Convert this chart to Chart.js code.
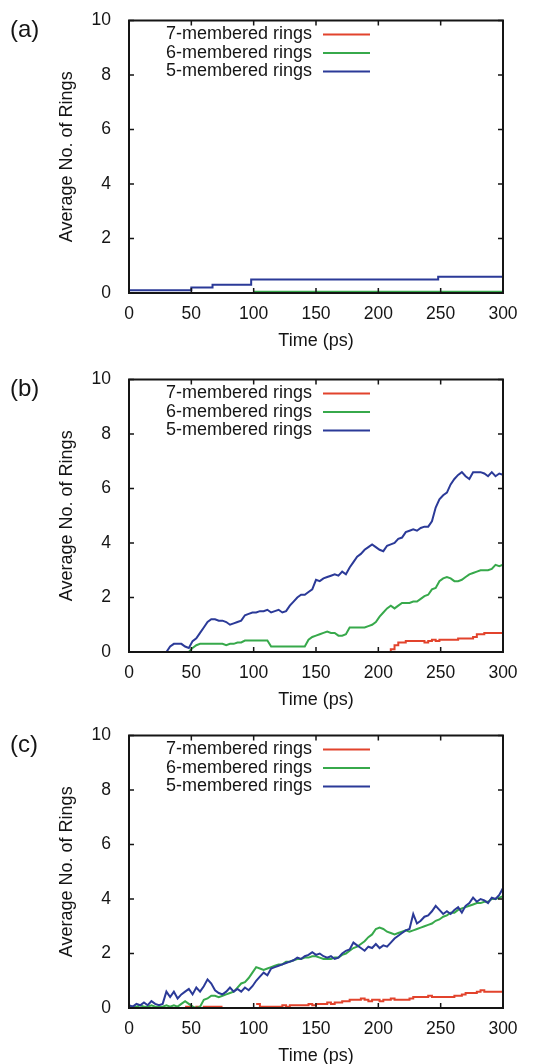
<!DOCTYPE html>
<html>
<head>
<meta charset="utf-8">
<script src="https://cdn.jsdelivr.net/npm/chart.js@4.4.1/dist/chart.umd.min.js"></script>
<style>
  html, body { margin: 0; padding: 0; background: #ffffff; }
  body { width: 535px; height: 1064px; position: relative; overflow: hidden; }
  canvas { position: absolute; left: 0; }
</style>
</head>
<body>
<canvas id="panelA" width="535" height="352" style="top:0px"></canvas>
<canvas id="panelB" width="535" height="352" style="top:359px"></canvas>
<canvas id="panelC" width="535" height="352" style="top:715px"></canvas>
<script>
// ---- data -------------------------------------------------------------
const seriesNames = ['7-membered rings', '6-membered rings', '5-membered rings'];
const xTicks = [0, 50, 100, 150, 200, 250, 300];
const yTicks = [0, 2, 4, 6, 8, 10];

// panel (a): piecewise-constant counts (time in ps, value)
const aTime7 = [0, 300];
const aRing7 = [0, 0];
const aTime6 = [100, 300];
const aRing6 = [0.05, 0.05];
const aTime5 = [0, 50, 67, 98, 248, 300];
const aRing5 = [0.1, 0.2, 0.3, 0.5, 0.6, 0.6];

// panels (b) and (c): sampled every 3 ps
const sampleTimes = [
  0, 3, 6, 9, 12, 15, 18, 21, 24, 27,
  30, 33, 36, 39, 42, 45, 48, 51, 54, 57,
  60, 63, 66, 69, 72, 75, 78, 81, 84, 87,
  90, 93, 96, 99, 102, 105, 108, 111, 114, 117,
  120, 123, 126, 129, 132, 135, 138, 141, 144, 147,
  150, 153, 156, 159, 162, 165, 168, 171, 174, 177,
  180, 183, 186, 189, 192, 195, 198, 201, 204, 207,
  210, 213, 216, 219, 222, 225, 228, 231, 234, 237,
  240, 243, 246, 249, 252, 255, 258, 261, 264, 267,
  270, 273, 276, 279, 282, 285, 288, 291, 294, 297,
  300
];

const bRing7 = [
  null, null, null, null, null, null, null, null, null, null,
  null, null, null, null, null, null, null, null, null, null,
  null, null, null, null, null, null, null, null, null, null,
  null, null, null, null, null, null, null, null, null, null,
  null, null, null, null, null, null, null, null, null, null,
  null, null, null, null, null, null, null, null, null, null,
  null, null, null, null, null, null, null, null, null, 0,
  0.1, 0.25, 0.35, 0.35, 0.4, 0.4, 0.4, 0.4, 0.4, 0.35,
  0.4, 0.45, 0.4, 0.45, 0.45, 0.45, 0.45, 0.45, 0.5, 0.5,
  0.5, 0.5, 0.55, 0.65, 0.65, 0.7, 0.7, 0.7, 0.7, 0.7,
  0.7
];
const bRing6 = [
  null, null, null, null, null, null, null, null, null, null,
  null, null, null, null, null, null, 0, 0.15, 0.25, 0.3,
  0.3, 0.3, 0.3, 0.3, 0.3, 0.3, 0.25, 0.3, 0.3, 0.35,
  0.35, 0.42, 0.42, 0.42, 0.42, 0.42, 0.42, 0.42, 0.2, 0.2,
  0.2, 0.2, 0.2, 0.2, 0.2, 0.2, 0.2, 0.2, 0.45, 0.55,
  0.6, 0.65, 0.7, 0.75, 0.7, 0.7, 0.6, 0.6, 0.65, 0.9,
  0.9, 0.9, 0.9, 0.9, 0.95, 1.0, 1.1, 1.3, 1.45, 1.6,
  1.7, 1.6, 1.7, 1.8, 1.8, 1.8, 1.85, 1.85, 1.95, 2.05,
  2.1, 2.3, 2.35, 2.6, 2.7, 2.75, 2.7, 2.6, 2.6, 2.65,
  2.75, 2.85, 2.9, 2.95, 3.0, 3.0, 3.0, 3.05, 3.2, 3.15,
  3.2
];
const bRing5 = [
  null, null, null, null, null, null, null, null, null, null,
  0, 0.2, 0.3, 0.3, 0.3, 0.2, 0.15, 0.4, 0.5, 0.7,
  0.9, 1.1, 1.2, 1.2, 1.15, 1.15, 1.1, 1.0, 1.05, 1.1,
  1.15, 1.35, 1.4, 1.45, 1.45, 1.5, 1.5, 1.55, 1.45, 1.5,
  1.55, 1.45, 1.5, 1.7, 1.85, 2.0, 2.1, 2.1, 2.2, 2.3,
  2.65, 2.6, 2.7, 2.75, 2.8, 2.85, 2.8, 2.95, 2.85, 3.1,
  3.3, 3.5, 3.6, 3.75, 3.85, 3.95, 3.85, 3.75, 3.7, 3.9,
  3.95, 4.0, 4.15, 4.2, 4.4, 4.45, 4.5, 4.45, 4.55, 4.6,
  4.6, 4.8, 5.3, 5.6, 5.75, 5.85, 6.15, 6.35, 6.5, 6.6,
  6.45, 6.35, 6.6, 6.6, 6.6, 6.55, 6.45, 6.6, 6.45, 6.55,
  6.5
];

const cRing7 = [
  null, null, null, null, null, null, null, null, null, null,
  null, null, null, null, null, 0.05, 0.05, 0, 0.05, 0,
  0.05, 0.05, 0.05, 0.05, 0.05, 0.05, null, null, null, null,
  null, null, null, null, 0.15, 0.05, 0.05, 0.05, 0.05, 0.05,
  0.05, 0.1, 0.05, 0.1, 0.1, 0.1, 0.1, 0.1, 0.15, 0.1,
  0.15, 0.15, 0.15, 0.2, 0.15, 0.2, 0.2, 0.25, 0.25, 0.3,
  0.3, 0.3, 0.35, 0.3, 0.25, 0.3, 0.3, 0.25, 0.3, 0.3,
  0.35, 0.3, 0.3, 0.3, 0.3, 0.35, 0.4, 0.4, 0.4, 0.4,
  0.45, 0.4, 0.4, 0.4, 0.4, 0.4, 0.4, 0.45, 0.45, 0.5,
  0.55, 0.55, 0.55, 0.6, 0.65, 0.6, 0.6, 0.6, 0.6, 0.6,
  0.6
];
const cRing6 = [
  0.05, 0.05, 0.05, 0.1, 0.05, 0.05, 0.1, 0.05, 0.05, 0.05,
  0.1, 0.05, 0.1, 0.05, 0.15, 0.25, 0.15, 0.05, 0.0, 0.05,
  0.3, 0.35, 0.45, 0.45, 0.4, 0.45, 0.5, 0.55, 0.6, 0.75,
  0.9, 0.95, 1.1, 1.3, 1.5, 1.45, 1.4, 1.45, 1.5, 1.55,
  1.6, 1.6, 1.7, 1.7, 1.75, 1.8, 1.8, 1.85, 1.85, 1.9,
  1.9, 1.85, 1.8, 1.8, 1.8, 1.85, 1.85, 1.95, 2.0, 2.1,
  2.2, 2.25, 2.35, 2.45, 2.6, 2.7, 2.9, 2.95, 2.9, 2.8,
  2.75, 2.7, 2.75, 2.8, 2.85, 2.8, 2.85, 2.9, 2.95, 3.0,
  3.05, 3.1, 3.2, 3.25, 3.35, 3.4, 3.5, 3.5, 3.6, 3.65,
  3.7, 3.75, 3.8, 3.85, 3.85, 3.9, 3.9, 4.0, 4.0, 4.05,
  4.1
];
const cRing5 = [
  0.1, 0.05, 0.15, 0.1, 0.2, 0.1, 0.25, 0.15, 0.1, 0.15,
  0.6, 0.4, 0.6, 0.35, 0.5, 0.6, 0.7, 0.5, 0.75, 0.6,
  0.8, 1.05, 0.9, 0.65, 0.55, 0.5, 0.6, 0.75, 0.6, 0.7,
  0.6, 0.75, 0.65, 0.8, 1.0, 1.15, 1.3, 1.2, 1.45, 1.5,
  1.55, 1.6, 1.65, 1.7, 1.75, 1.85, 1.8, 1.9, 1.95, 2.05,
  1.95, 2.0, 1.9, 1.85, 1.9, 1.8, 1.85, 2.0, 2.1, 2.15,
  2.4, 2.3, 2.2, 2.1, 2.25, 2.2, 2.35, 2.2, 2.3, 2.25,
  2.4, 2.55, 2.65, 2.75, 2.85, 2.9, 3.45, 3.1, 3.2, 3.35,
  3.4, 3.55, 3.75, 3.6, 3.45, 3.55, 3.45, 3.6, 3.7, 3.5,
  3.75, 3.85, 4.05, 3.9, 4.0, 3.95, 3.85, 4.05, 4.0, 4.15,
  4.4
];

// ---- styling ----------------------------------------------------------
const FONT = "'Liberation Sans', Arial, Helvetica, sans-serif";
const INK = '#151515';
const RED = '#e2432c';
const GREEN = '#37a94b';
const BLUE = '#2b3a98';

function points(times, values) {
  return times.map((t, i) => ({ x: t, y: values[i] }));
}

// frame, inward tick marks, key and panel letter
const panelDecor = {
  id: 'panelDecor',
  afterDatasetsDraw(chart, args, opts) {
    const { ctx, chartArea: a, scales } = chart;
    ctx.save();
    ctx.strokeStyle = INK;
    ctx.lineWidth = 2;
    ctx.strokeRect(a.left, a.top, a.right - a.left, a.bottom - a.top);
    ctx.lineWidth = 1.5;
    ctx.beginPath();
    xTicks.forEach(v => {
      const px = scales.x.getPixelForValue(v);
      ctx.moveTo(px, a.bottom); ctx.lineTo(px, a.bottom - 5);
      ctx.moveTo(px, a.top); ctx.lineTo(px, a.top + 5);
    });
    yTicks.forEach(v => {
      const py = scales.y.getPixelForValue(v);
      ctx.moveTo(a.left, py); ctx.lineTo(a.left + 5, py);
      ctx.moveTo(a.right, py); ctx.lineTo(a.right - 5, py);
    });
    ctx.stroke();
    ctx.restore();
  },
  afterDraw(chart, args, opts) {
    const { ctx, chartArea: a } = chart;
    ctx.save();
    ctx.font = '18px ' + FONT;
    ctx.textAlign = 'right';
    ctx.textBaseline = 'middle';
    chart.data.datasets.forEach((ds, i) => {
      const y = a.top + 14 + i * 18.5;
      ctx.fillStyle = INK;
      ctx.fillText(ds.label, a.left + 183, y);
      ctx.strokeStyle = ds.borderColor;
      ctx.lineWidth = 2;
      ctx.beginPath();
      ctx.moveTo(a.left + 194, y);
      ctx.lineTo(a.left + 241, y);
      ctx.stroke();
    });
    ctx.font = '24px ' + FONT;
    ctx.textAlign = 'left';
    ctx.fillStyle = INK;
    ctx.fillText(opts.label, 10, a.top + 10);
    ctx.restore();
  }
};

function makePanel(id, label, d7, d6, d5, stepStyle) {
  return new Chart(document.getElementById(id), {
    type: 'line',
    data: {
      datasets: [
        { label: seriesNames[0], data: d7, borderColor: RED, order: 2, stepped: stepStyle[0] },
        { label: seriesNames[1], data: d6, borderColor: GREEN, order: 1, stepped: stepStyle[1] },
        { label: seriesNames[2], data: d5, borderColor: BLUE, order: 0, stepped: stepStyle[2] }
      ]
    },
    options: {
      responsive: false,
      animation: false,
      devicePixelRatio: 1,
      layout: { padding: { top: 18, right: 32, bottom: 0, left: 0 } },
      elements: {
        point: { radius: 0 },
        line: { tension: 0, borderWidth: 2, fill: false }
      },
      plugins: {
        legend: { display: false },
        tooltip: { enabled: false },
        panelDecor: { label: label }
      },
      scales: {
        x: {
          type: 'linear', min: 0, max: 300,
          afterBuildTicks: s => { s.ticks = xTicks.map(v => ({ value: v })); },
          ticks: { autoSkip: false, maxRotation: 0, padding: 3, color: INK,
                   font: { family: FONT, size: 17.5 } },
          grid: { display: false },
          border: { display: false },
          title: { display: true, text: 'Time (ps)', color: INK,
                   font: { family: FONT, size: 18 }, padding: { top: 0, bottom: 0 } },
          afterFit: s => { s.height = 59; }
        },
        y: {
          type: 'linear', min: 0, max: 10,
          afterBuildTicks: s => { s.ticks = yTicks.map(v => ({ value: v })); },
          ticks: { padding: 10, color: INK, font: { family: FONT, size: 17.5 } },
          grid: { display: false },
          border: { display: false },
          title: { display: true, text: 'Average No. of Rings', color: INK,
                   font: { family: FONT, size: 18 }, padding: { top: 56, bottom: 0 } },
          afterFit: s => { s.width = 129; }
        }
      }
    },
    plugins: [panelDecor]
  });
}

makePanel('panelA', '(a)',
  points(aTime7, aRing7), points(aTime6, aRing6), points(aTime5, aRing5),
  [true, true, true]);
makePanel('panelB', '(b)',
  points(sampleTimes, bRing7), points(sampleTimes, bRing6), points(sampleTimes, bRing5),
  [true, false, false]);
makePanel('panelC', '(c)',
  points(sampleTimes, cRing7), points(sampleTimes, cRing6), points(sampleTimes, cRing5),
  [true, false, false]);
</script>
</body>
</html>
